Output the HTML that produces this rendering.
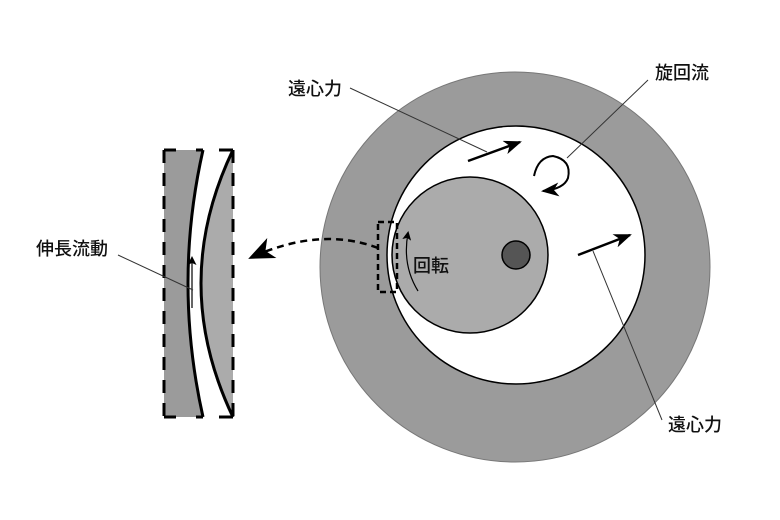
<!DOCTYPE html>
<html><head><meta charset="utf-8"><style>
body{margin:0;background:#fff;}
svg{display:block}
text{font-family:"Liberation Sans","Noto Sans CJK JP",sans-serif;font-size:18px;fill:#111;font-weight:500}
</style></head><body>
<svg width="780" height="520" viewBox="0 0 780 520">
<defs>
<marker id="ah" markerWidth="18" markerHeight="14" refX="16" refY="7" orient="auto" markerUnits="userSpaceOnUse"><path d="M0,0 L18,7 L0,14 L5,7 Z" fill="#000"/></marker>
<marker id="ah2" markerWidth="26" markerHeight="22" refX="24" refY="11" orient="auto" markerUnits="userSpaceOnUse"><path d="M0,0 L26,11 L0,22 L7,11 Z" fill="#000"/></marker>
<marker id="ah3" markerWidth="9" markerHeight="9" refX="7" refY="4.5" orient="auto" markerUnits="userSpaceOnUse"><path d="M0,0 L9,4.5 L0,9 L2,4.5 Z" fill="#000"/></marker>
</defs>
<circle cx="515" cy="267" r="195" fill="#9b9b9b" stroke="#777" stroke-width="1"/>
<circle cx="516" cy="255" r="129" fill="#fff" stroke="#000" stroke-width="1.5"/>
<circle cx="470" cy="255" r="78" fill="#ababab" stroke="#000" stroke-width="1.5"/>
<circle cx="516" cy="255" r="14" fill="#555" stroke="#000" stroke-width="1.5"/>
<rect x="378" y="222" width="19" height="70" fill="none" stroke="#000" stroke-width="2.5" stroke-dasharray="6,4"/>
<path d="M418,291 Q402,265 408,233" fill="none" stroke="#000" stroke-width="1.2" marker-end="url(#ah3)"/>
<text x="413" y="272">回転</text>
<path d="M378,248 Q320,226 250,258" fill="none" stroke="#000" stroke-width="2.5" stroke-dasharray="7,5" marker-end="url(#ah2)"/>
<rect x="164" y="150" width="70" height="267" fill="#fff"/>
<path d="M164,150 L203,150 Q173,283 203,417 L164,417 Z" fill="#9b9b9b"/>
<path d="M233,150 L231,150 Q169,283 231,417 L233,417 Z" fill="#ababab"/>
<path d="M203,150 Q173,283 203,417" fill="none" stroke="#000" stroke-width="3"/>
<path d="M233,150 Q169,283 233,417" fill="none" stroke="#000" stroke-width="3"/>
<path d="M164,150 L164,417" stroke="#000" stroke-width="3" stroke-dasharray="13,10"/>
<path d="M233,150 L233,417" stroke="#000" stroke-width="3" stroke-dasharray="13,10"/>
<path d="M164,150 H176 M196,150 H203 M219,150 H233 M164,417 H176 M196,417 H203 M219,417 H233" stroke="#000" stroke-width="3"/>
<path d="M192,308 L192,258" stroke="#000" stroke-width="1.2" marker-end="url(#ah3)"/>
<text x="36" y="255">伸長流動</text>
<line x1="118" y1="255" x2="193" y2="290" stroke="#333" stroke-width="1"/>
<text x="288" y="95">遠心力</text>
<line x1="350" y1="88" x2="487" y2="152" stroke="#333" stroke-width="1"/>
<line x1="468" y1="161" x2="520" y2="142" stroke="#000" stroke-width="2.5" marker-end="url(#ah)"/>
<text x="655" y="79">旋回流</text>
<line x1="648" y1="80" x2="567" y2="158" stroke="#333" stroke-width="1"/>
<path d="M534,176 Q538,157 553,156 Q572,160 568,178 Q564,189 543,191" fill="none" stroke="#000" stroke-width="2" marker-end="url(#ah)"/>
<line x1="578" y1="255" x2="630" y2="235" stroke="#000" stroke-width="2.5" marker-end="url(#ah)"/>
<line x1="593" y1="251" x2="662" y2="420" stroke="#333" stroke-width="1"/>
<text x="668" y="431">遠心力</text>
</svg>
</body></html>
